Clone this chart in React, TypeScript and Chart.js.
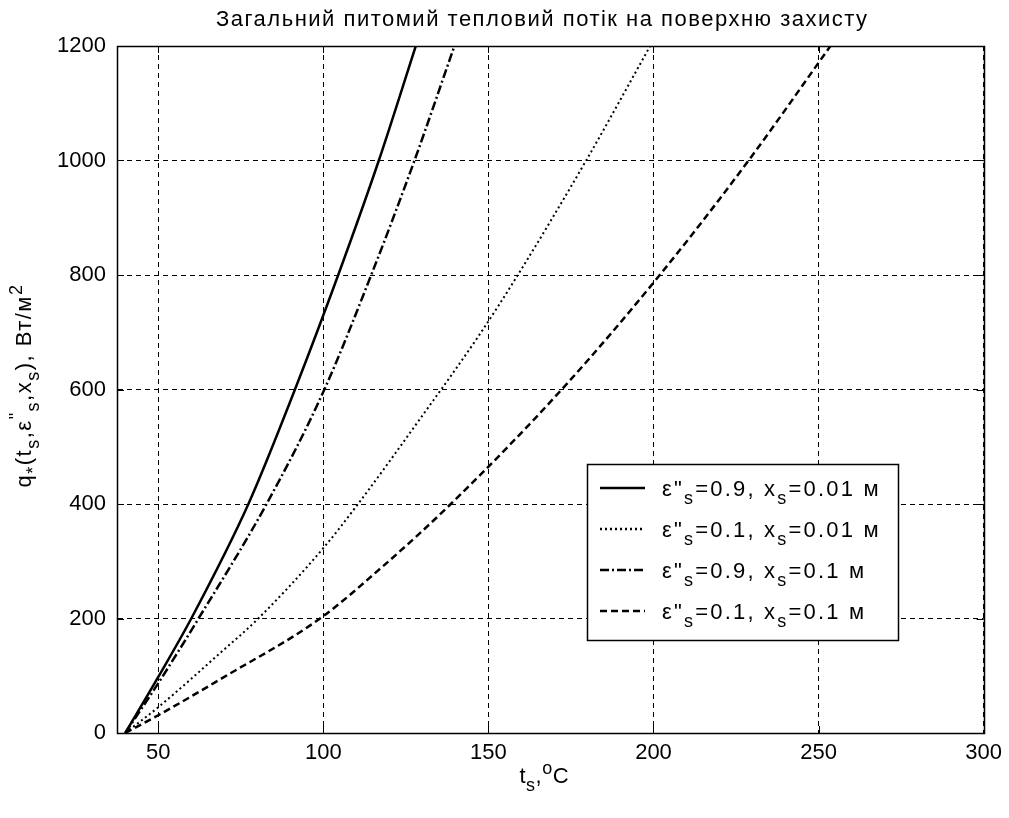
import React, { useEffect, useRef } from "react";
import { Chart, registerables } from "chart.js";

Chart.register(...registerables);

// ---------- data ----------
const titleText = "Загальний питомий тепловий потік на поверхню захисту";
const xTickValues = [50, 100, 150, 200, 250, 300];
const yTickValues = [0, 200, 400, 600, 800, 1000, 1200];
const xMin = 37.5;
const xMax = 300;
const yMin = 0;
const yMax = 1200;

// ε"s=0.9, xs=0.01 м (solid)
const tSolid = [40, 50, 60, 77.3, 91.4, 104.5, 116.8, 128];
const qSolid = [0, 98, 200, 400, 600, 800, 1000, 1200];

// ε"s=0.1, xs=0.01 м (dotted)
const tDotted = [40, 50, 68.8, 80.3, 100, 110.5, 129.2, 147.2, 158.9, 179.6, 199];
const qDotted = [0, 45, 140, 200, 323, 400, 548, 695, 800, 1000, 1200];

// ε"s=0.9, xs=0.1 м (dash-dot)
const tDashDot = [40, 50, 62.2, 82.8, 100, 114.5, 127.6, 139.7];
const qDashDot = [0, 87, 200, 400, 596, 800, 1000, 1200];

// ε"s=0.1, xs=0.1 м (dashed)
const tDashed = [40, 50, 70, 99, 118, 138.6, 172.2, 201.9, 228.8, 253.6];
const qDashed = [0, 31, 98, 200, 291, 400, 600, 800, 1000, 1200];

const legendEps = ["0.9", "0.1", "0.9", "0.1"];
const legendX = ["0.01", "0.01", "0.1", "0.1"];

const FONT = '"Liberation Sans", Arial, sans-serif';
const FS = 22;

const toPts = (xs: number[], ys: number[]) => xs.map((x, i) => ({ x, y: ys[i] }));

type Seg = { t: string; sub?: boolean; sup?: boolean };

function drawSegs(
  ctx: CanvasRenderingContext2D,
  segs: Seg[],
  x: number,
  y: number,
  size: number,
  align: "left" | "center",
  spacing = 0
) {
  const small = Math.round(size * 0.8);
  (ctx as any).letterSpacing = `${spacing}px`;
  const widths = segs.map((s) => {
    ctx.font = `${s.sub || s.sup ? small : size}px ${FONT}`;
    return ctx.measureText(s.t).width;
  });
  const total = widths.reduce((a, b) => a + b, 0);
  let cx = align === "center" ? x - total / 2 : x;
  ctx.textBaseline = "alphabetic";
  ctx.textAlign = "left";
  segs.forEach((s, i) => {
    ctx.font = `${s.sub || s.sup ? small : size}px ${FONT}`;
    const dy = s.sub ? size * 0.36 : s.sup ? -size * 0.42 : 0;
    ctx.fillText(s.t, cx, y + dy);
    cx += widths[i];
  });
  (ctx as any).letterSpacing = "0px";
}

const dashes: number[][] = [[], [2, 3], [9, 3, 2, 3], [7, 4]];

const overlayPlugin = {
  id: "overlay",
  afterDraw(chart: any) {
    const { ctx, chartArea } = chart;
    const { left, right, top, bottom } = chartArea;
    const xs = chart.scales.x;
    const ys = chart.scales.y;
    ctx.save();
    ctx.fillStyle = "#000";
    ctx.strokeStyle = "#000";
    ctx.setLineDash([]);
    ctx.lineWidth = 1;

    // tick marks inside
    ctx.beginPath();
    xTickValues.forEach((v) => {
      const px = Math.round(xs.getPixelForValue(v)) + 0.5;
      ctx.moveTo(px, bottom);
      ctx.lineTo(px, bottom - 7);
      ctx.moveTo(px, top);
      ctx.lineTo(px, top + 7);
    });
    yTickValues.forEach((v) => {
      const py = Math.round(ys.getPixelForValue(v)) + 0.5;
      ctx.moveTo(left, py);
      ctx.lineTo(left + 7, py);
      ctx.moveTo(right, py);
      ctx.lineTo(right - 7, py);
    });
    ctx.stroke();

    // box
    ctx.lineWidth = 1.5;
    ctx.strokeRect(Math.round(left) + 0.5, Math.round(top) + 0.5, Math.round(right - left), Math.round(bottom - top));

    // title
    drawSegs(ctx, [{ t: titleText }], (left + right) / 2 - 8, 26, 22, "center", 1.5);

    // x label
    drawSegs(
      ctx,
      [{ t: "t" }, { t: "s", sub: true }, { t: "," }, { t: "o", sup: true }, { t: "C" }],
      (left + right) / 2 - 6,
      783,
      FS,
      "center",
      0.5
    );

    // y label
    ctx.save();
    ctx.translate(31, (top + bottom) / 2 - 4);
    ctx.rotate(-Math.PI / 2);
    drawSegs(
      ctx,
      [
        { t: "q" }, { t: "*", sub: true }, { t: "(t" }, { t: "s", sub: true }, { t: ",ε" }, { t: '"', sup: true },
        { t: "s", sub: true }, { t: ",x" }, { t: "s", sub: true }, { t: "), Вт/м" }, { t: "2", sup: true },
      ],
      0,
      0,
      FS,
      "center",
      1.5
    );
    ctx.restore();

    // legend
    const lx = 587, ly = 464, lw = 311, lh = 176;
    ctx.fillStyle = "#fff";
    ctx.fillRect(lx, ly, lw, lh);
    ctx.strokeStyle = "#000";
    ctx.lineWidth = 1.5;
    ctx.strokeRect(lx + 0.5, ly + 0.5, lw, lh);
    const rowY = [488, 529, 570, 611];
    rowY.forEach((ry, i) => {
      ctx.save();
      ctx.lineWidth = 2.5;
      ctx.setLineDash(dashes[i]);
      ctx.beginPath();
      ctx.moveTo(600, ry);
      ctx.lineTo(645, ry);
      ctx.stroke();
      ctx.restore();
      ctx.fillStyle = "#000";
      drawSegs(
        ctx,
        [
          { t: "ε" }, { t: '"' }, { t: "s", sub: true }, { t: "=" + legendEps[i] + ", x" },
          { t: "s", sub: true }, { t: "=" + legendX[i] + " м" },
        ],
        662,
        ry + 8,
        FS,
        "left",
        2.2
      );
    });
    ctx.restore();
  },
};

export default function App() {
  const ref = useRef<HTMLCanvasElement | null>(null);
  useEffect(() => {
    document.body.style.margin = "0";
    const canvas = ref.current!;
    const mk = (label: string, xs: number[], ys: number[], dash: number[], width: number) => ({
      label,
      data: toPts(xs, ys),
      showLine: true,
      borderColor: "#000",
      backgroundColor: "#000",
      borderWidth: width,
      borderDash: dash,
      pointRadius: 0,
      cubicInterpolationMode: "monotone" as const,
      fill: false,
    });
    const chart = new Chart(canvas, {
      type: "scatter",
      data: {
        datasets: [
          mk("ε\"s=0.9, xs=0.01 м", tSolid, qSolid, dashes[0], 2.5),
          mk("ε\"s=0.1, xs=0.01 м", tDotted, qDotted, dashes[1], 2),
          mk("ε\"s=0.9, xs=0.1 м", tDashDot, qDashDot, dashes[2], 2.5),
          mk("ε\"s=0.1, xs=0.1 м", tDashed, qDashed, dashes[3], 2.5),
        ],
      },
      options: {
        responsive: false,
        animation: false,
        events: [],
        layout: { padding: { left: 0, top: 46, right: 24, bottom: 0 } },
        plugins: { legend: { display: false }, title: { display: false }, tooltip: { enabled: false } },
        scales: {
          x: {
            type: "linear",
            min: xMin,
            max: xMax,
            afterBuildTicks: (s: any) => {
              s.ticks = xTickValues.map((v) => ({ value: v }));
            },
            afterFit: (s: any) => {
              s.height = 85;
            },
            grid: { color: "#000", lineWidth: 1, drawTicks: false, tickLength: 0 },
            border: { display: true, color: "#000", width: 1, dash: [5, 4] },
            ticks: {
              color: "#000",
              font: { family: FONT, size: FS },
              padding: 7,
              maxRotation: 0,
              autoSkip: false,
              callback: (v: any) => String(v),
            },
          },
          y: {
            type: "linear",
            min: yMin,
            max: yMax,
            afterBuildTicks: (s: any) => {
              s.ticks = yTickValues.map((v) => ({ value: v }));
            },
            afterFit: (s: any) => {
              s.width = 117;
            },
            grid: { color: "#000", lineWidth: 1, drawTicks: false, tickLength: 0 },
            border: { display: true, color: "#000", width: 1, dash: [5, 4] },
            ticks: {
              color: "#000",
              font: { family: FONT, size: FS },
              padding: 11,
              autoSkip: false,
              callback: (v: any) => String(v),
            },
          },
        },
      },
      plugins: [overlayPlugin],
    } as any);
    return () => chart.destroy();
  }, []);
  return <canvas ref={ref} width={1009} height={818} style={{ display: "block" }} />;
}
